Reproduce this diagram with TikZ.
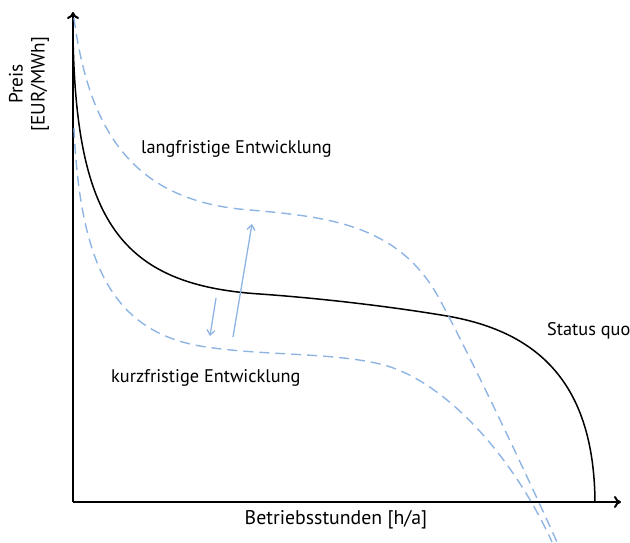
\documentclass[tikz,border=0pt]{standalone}
\usepackage{fontspec}
\setmainfont{PT Sans}
\usetikzlibrary{arrows.meta}
\definecolor{lightblue}{RGB}{142,180,227}
\begin{document}
\begin{tikzpicture}[x=1pt,y=-1pt,
  axis/.style={line width=2pt,-{To[length=7pt,width=12pt,line width=2pt]}},
  statusline/.style={line width=1.5pt,black},
  scenario/.style={line width=1.4pt,lightblue,dash pattern=on 10pt off 6pt},
  shift arrow/.style={line width=1.3pt,lightblue,-{Straight Barb[length=5pt,width=8pt]}},
  lbl/.style={font=\fontsize{18.3}{21}\selectfont,inner sep=0pt}]
\useasboundingbox (0,0) rectangle (630,542);

% axes
\coordinate (origin) at (73,502);
\coordinate (ytip) at (73,12);
\coordinate (xtip) at (621,502);
\draw[axis] (origin) -- (ytip);
\draw[axis] (origin) -- (xtip);

% status quo duration curve
\draw[statusline] (73,35) .. controls (76,220) and (120,285) .. (260,294)
  .. controls (330,299) and (400,308) .. (447,316)
  .. controls (540,332) and (594,385) .. (595,502);

% long-term development
\draw[scenario] (74,18) .. controls (90,140) and (140,202) .. (250,210)
  .. controls (330,217) and (400,225) .. (440,300)
  .. controls (470,356) and (520,460) .. (557,542);

% short-term development
\draw[scenario] (74,128) .. controls (80,260) and (110,330) .. (200,346)
  .. controls (260,356) and (330,352) .. (380,364)
  .. controls (440,378) and (510,450) .. (552,542);

% shift arrows
\coordinate (upA) at (233,337);
\coordinate (upB) at (252,224);
\coordinate (dnA) at (216,298);
\coordinate (dnB) at (210,336);
\draw[shift arrow] (upA) -- (upB);
\draw[shift arrow] (dnA) -- (dnB);

% labels
\node[lbl,anchor=base west] (lang) at (141,153) {langfristige Entwicklung};
\node[lbl,anchor=base west] (kurz) at (111,382) {kurzfristige Entwicklung};
\node[lbl,anchor=base west] (status) at (547,335) {Status quo};
\node[lbl,anchor=base,font=\fontsize{19.8}{22}\selectfont] (xlabel) at (336,524) {Betriebsstunden [h/a]};
\node[lbl,rotate=90,align=center,font=\fontsize{19.3}{22}\selectfont] (ylabel) at (29,84) {Preis\\{}[EUR/MWh]};
\end{tikzpicture}
\end{document}
